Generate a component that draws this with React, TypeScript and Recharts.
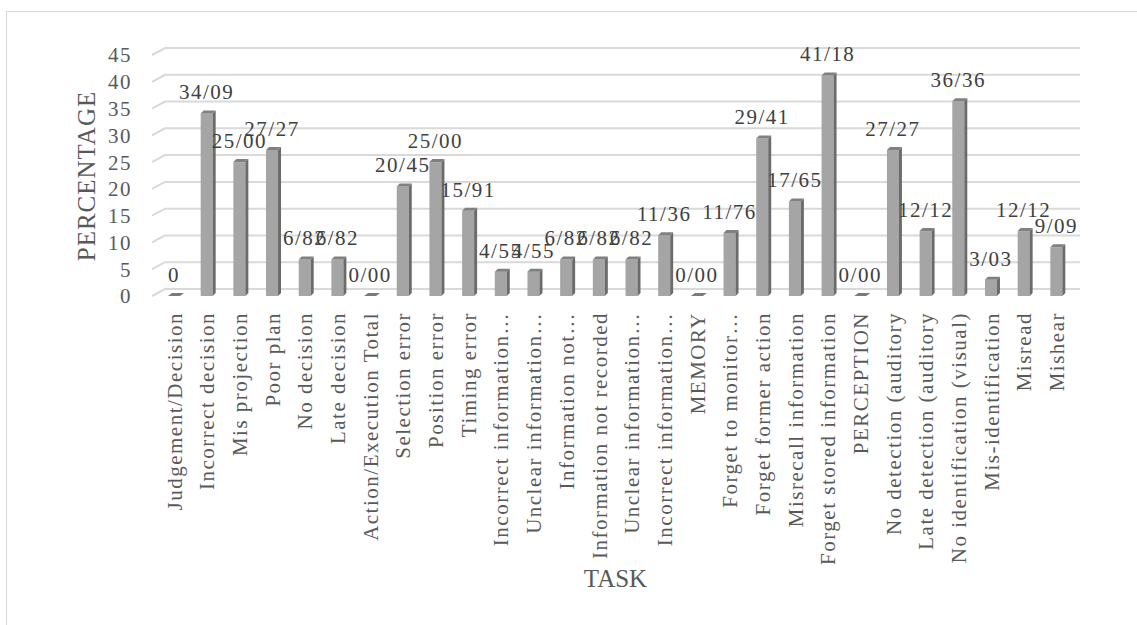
import React from 'react'
import { BarChart, Bar, XAxis, YAxis, CartesianGrid, LabelList } from 'recharts'

const categories = [
  'Judgement/Decision',
  'Incorrect decision',
  'Mis projection',
  'Poor plan',
  'No decision',
  'Late decision',
  'Action/Execution Total',
  'Selection error',
  'Position error',
  'Timing error',
  'Incorrect information…',
  'Unclear information…',
  'Information not…',
  'Information not recorded',
  'Unclear information…',
  'Incorrect information…',
  'MEMORY',
  'Forget to monitor…',
  'Forget former action',
  'Misrecall information',
  'Forget stored information',
  'PERCEPTION',
  'No detection (auditory',
  'Late detection (auditory',
  'No identification (visual)',
  'Mis-identification',
  'Misread',
  'Mishear',
]

const values = [
  0, 34.09, 25.0, 27.27, 6.82, 6.82, 0, 20.45, 25.0, 15.91, 4.55, 4.55, 6.82, 6.82,
  6.82, 11.36, 0, 11.76, 29.41, 17.65, 41.18, 0, 27.27, 12.12, 36.36, 3.03, 12.12, 9.09,
]

const valueLabels = [
  '0', '34/09', '25/00', '27/27', '6/82', '6/82', '0/00', '20/45', '25/00', '15/91',
  '4/55', '4/55', '6/82', '6/82', '6/82', '11/36', '0/00', '11/76', '29/41', '17/65',
  '41/18', '0/00', '27/27', '12/12', '36/36', '3/03', '12/12', '9/09',
]

const yTicks = [0, 5, 10, 15, 20, 25, 30, 35, 40, 45]

const data = categories.map((name, i) => ({ name, value: values[i], label: valueLabels[i] }))

const FONT = '"Liberation Serif", "Times New Roman", serif'
const D = 3 // 3d depth

function Bar3D(props: any) {
  const { x, y, width, height } = props
  if (!height || height < 0.5) {
    // flat bar on the floor
    const by = y + (height || 0)
    return (
      <polygon
        points={`${x},${by} ${x + width},${by} ${x + width + D + 1},${by - D} ${x + D + 1},${by - D}`}
        fill="#7a7a7a"
      />
    )
  }
  return (
    <g>
      <rect x={x} y={y} width={width} height={height} fill="#a5a5a5" />
      <polygon
        points={`${x + width},${y} ${x + width + D},${y - D} ${x + width + D},${y + height - D} ${x + width},${y + height}`}
        fill="#6b6b6b"
      />
      <polygon
        points={`${x},${y} ${x + D},${y - D} ${x + width + D},${y - D} ${x + width},${y}`}
        fill="#808080"
      />
    </g>
  )
}

function GridLine(props: any) {
  const { x1, y1, x2 } = props
  return (
    <path
      d={`M${x1 - 6},${y1} L${x1 + 7},${y1 - 7} L${x2 + 7},${y1 - 7}`}
      stroke="#d9d9d9"
      strokeWidth={2}
      fill="none"
    />
  )
}

function XTick(props: any) {
  const { x, y, payload } = props
  return (
    <text
      x={x}
      y={y}
      transform={`rotate(-90, ${x}, ${y})`}
      textAnchor="end"
      dy="0.35em"
      fill="#595959"
      fontSize={21}
      letterSpacing={1.5}
      fontFamily={FONT}
    >
      {payload.value}
    </text>
  )
}

export default function App() {
  return (
    <div style={{ position: 'absolute', left: 0, top: 0, width: 1137, height: 625, background: '#fff', overflow: 'hidden' }}>
      <div
        style={{
          position: 'absolute',
          left: 6,
          top: 11,
          width: 1140,
          height: 640,
          border: '1px solid #d9d9d9',
        }}
      />
      <div style={{ position: 'absolute', left: 0, top: 0 }}>
        <BarChart
          width={1137}
          height={625}
          data={data}
          margin={{ top: 55, right: 64, bottom: 0, left: 0 }}
          barCategoryGap={0}
        >
          <CartesianGrid vertical={false} horizontal={GridLine} />
          <XAxis
            dataKey="name"
            interval={0}
            height={329}
            axisLine={false}
            tickLine={false}
            tick={<XTick />}
            tickMargin={10}
            label={{ value: 'TASK', position: 'insideBottom', offset: 38, fill: '#595959', fontSize: 25, fontFamily: FONT }}
          />
          <YAxis
            width={158}
            domain={[0, 45]}
            ticks={yTicks}
            interval={0}
            axisLine={false}
            tickLine={false}
            tickMargin={20}
            tick={{ fill: '#595959', fontSize: 21, fontFamily: FONT, letterSpacing: 1.5 }}
            label={{
              content: () => (
                <text
                  x={86}
                  y={176}
                  transform="rotate(-90, 86, 176)"
                  textAnchor="middle"
                  dy="0.35em"
                  fill="#595959"
                  fontSize={25}
                  letterSpacing={1}
                  fontFamily={FONT}
                >
                  PERCENTAGE
                </text>
              ),
            }}
          />
          <Bar dataKey="value" barSize={12} shape={<Bar3D />} isAnimationActive={false}>
            <LabelList
              dataKey="label"
              position="top"
              offset={14}
              fill="#404040"
              fontSize={21}
              fontFamily={FONT}
              letterSpacing={1.5}
            />
          </Bar>
        </BarChart>
      </div>
    </div>
  )
}
